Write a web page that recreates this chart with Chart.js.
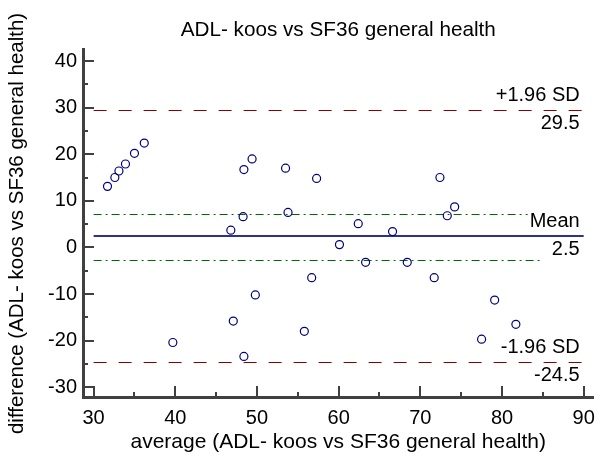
<!DOCTYPE html>
<html>
<head>
<meta charset="utf-8">
<script src="https://cdn.jsdelivr.net/npm/chart.js@4.4.0/dist/chart.umd.min.js"></script>
<style>
html, body { margin: 0; padding: 0; background: #fff; }
</style>
</head>
<body>
<canvas id="chart" width="604" height="457"></canvas>
<script>
// values
const averages = [31.7, 32.6, 33.1, 33.9, 35.0, 36.2, 39.7, 46.8, 47.1, 48.3, 48.4, 48.4, 49.4, 49.8, 53.5, 53.8,
                  55.8, 56.7, 57.3, 60.1, 62.4, 63.3, 66.6, 68.4, 71.7, 72.4, 73.3, 74.2, 77.5, 79.1, 81.7];
const differences = [13.1, 15.0, 16.4, 17.9, 20.2, 22.4, -20.4, 3.7, -15.8, 6.6, 16.7, -23.4, 19.0, -10.2, 17.0, 7.5,
                     -18.0, -6.5, 14.8, 0.6, 5.1, -3.2, 3.4, -3.2, -6.5, 15.0, 6.8, 8.7, -19.7, -11.3, -16.5];
const xTicks = [30, 40, 50, 60, 70, 80, 90];
const yTicks = [-30, -20, -10, 0, 10, 20, 30, 40];
const limitValues = [29.5, 2.5, -24.5];
const limitNames = ["+1.96 SD", "Mean", "-1.96 SD"];
const ciValues = [7.2, -2.7];
const ciEnd = 85;

const FONT = "'Liberation Sans', Arial, sans-serif";

const refLines = {
    id: "refLines",
    beforeDatasetsDraw(chart) {
        const { ctx, scales: { x, y } } = chart;
        const x0 = x.getPixelForValue(xTicks[0]);
        const x1 = x.getPixelForValue(xTicks[xTicks.length - 1]);
        ctx.save();

        // confidence interval of the mean
        ctx.strokeStyle = "#006a00";
        ctx.lineWidth = 1;
        ctx.setLineDash([8, 4, 2, 4]);
        ciValues.forEach(v => {
            const py = Math.round(y.getPixelForValue(v)) + 0.5;
            ctx.beginPath();
            ctx.moveTo(x0, py);
            ctx.lineTo(x.getPixelForValue(ciEnd), py);
            ctx.stroke();
        });

        limitValues.forEach((v, i) => {
            let py = Math.round(y.getPixelForValue(v));
            if (i === 1) {
                ctx.setLineDash([]);
                ctx.strokeStyle = "#30308f";
                ctx.lineWidth = 2;
            } else {
                ctx.setLineDash([13, 12]);
                ctx.strokeStyle = "#8a0000";
                ctx.lineWidth = 1;
                py += 0.5;
            }
            ctx.beginPath();
            ctx.moveTo(x0, py);
            ctx.lineTo(x1, py);
            ctx.stroke();
        });

        ctx.font = "20px " + FONT;
        ctx.textAlign = "right";
        ctx.textBaseline = "alphabetic";
        limitValues.forEach((v, i) => {
            const py = y.getPixelForValue(v);
            const tx = x1 - 4;
            const texts = [[limitNames[i], py - 9], [v.toFixed(1), py + 19]];
            texts.forEach(([t, by]) => {
                const w = ctx.measureText(t).width;
                ctx.fillStyle = "#fff";
                ctx.fillRect(tx - w - 2, by - 15, w + 4, 19);
                ctx.fillStyle = "#000";
                ctx.fillText(t, tx, by);
            });
        });
        ctx.restore();
    }
};

const innerTicks = {
    id: "innerTicks",
    afterDraw(chart) {
        const { ctx, chartArea: a, scales: { x, y } } = chart;
        ctx.save();
        ctx.strokeStyle = "#404040";
        ctx.lineWidth = 2;
        const draw = (ticks, scale, horizontal) => {
            const step = ticks[1] - ticks[0];
            ticks.forEach((v, i) => {
                const marks = [[v, 11]];
                if (i < ticks.length - 1) marks.push([v + step / 2, 5]);
                marks.forEach(([m, len]) => {
                    const p = Math.round(scale.getPixelForValue(m));
                    ctx.beginPath();
                    if (horizontal) {
                        ctx.moveTo(p, a.bottom);
                        ctx.lineTo(p, a.bottom - len);
                    } else {
                        ctx.moveTo(a.left, p);
                        ctx.lineTo(a.left + len, p);
                    }
                    ctx.stroke();
                });
            });
        };
        draw(xTicks, x, true);
        draw(yTicks, y, false);
        ctx.restore();
    }
};

const ctx = document.getElementById("chart").getContext("2d");
new Chart(ctx, {
    type: "scatter",
    data: {
        datasets: [{
            data: averages.map((a, i) => ({ x: a, y: differences[i] })),
            pointStyle: "circle",
            pointRadius: 4,
            borderWidth: 1.2,
            borderColor: "#000080",
            backgroundColor: "rgba(0,0,0,0)"
        }]
    },
    options: {
        responsive: false,
        animation: false,
        layout: { padding: { left: 0, right: 3, top: 0, bottom: 0 } },
        plugins: {
            legend: { display: false },
            tooltip: { enabled: false },
            title: {
                display: true,
                fullSize: false,
                text: "ADL- koos vs SF36 general health",
                color: "#000",
                font: { family: FONT, size: 20.7, weight: "normal" },
                padding: { top: 18, bottom: 7 }
            }
        },
        scales: {
            x: {
                type: "linear",
                min: 28.7,
                max: 91.2,
                afterBuildTicks(s) { s.ticks = xTicks.map(v => ({ value: v })); },
                afterFit(s) { s.height = 60; },
                grid: { display: true, drawOnChartArea: false, drawTicks: false, color: "rgba(0,0,0,0)" },
                border: { display: true, color: "#404040", width: 3 },
                ticks: { color: "#000", font: { family: FONT, size: 20 }, padding: 9, maxRotation: 0 },
                title: {
                    display: true,
                    text: "average (ADL- koos vs SF36 general health)",
                    color: "#000",
                    font: { family: FONT, size: 21 },
                    padding: { top: 2, bottom: 2 }
                }
            },
            y: {
                type: "linear",
                min: -32.1,
                max: 42.4,
                afterBuildTicks(s) { s.ticks = yTicks.map(v => ({ value: v })); },
                afterFit(s) { s.width = 83; },
                grid: { display: true, drawOnChartArea: false, drawTicks: false, color: "rgba(0,0,0,0)" },
                border: { display: true, color: "#404040", width: 3 },
                ticks: { color: "#000", font: { family: FONT, size: 20 }, padding: 6 },
                title: {
                    display: true,
                    text: "difference (ADL- koos vs SF36 general health)",
                    color: "#000",
                    font: { family: FONT, size: 20.5 },
                    padding: { top: 5, bottom: 5 }
                }
            }
        }
    },
    plugins: [refLines, innerTicks]
});
</script>
</body>
</html>
